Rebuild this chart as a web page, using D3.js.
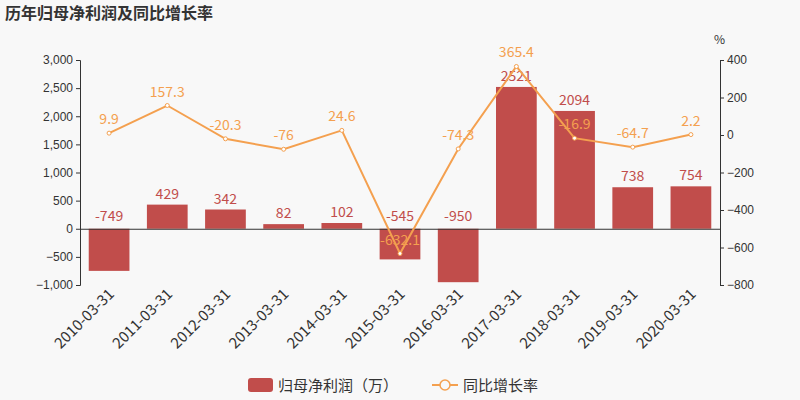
<!DOCTYPE html>
<html><head><meta charset="utf-8">
<script src="https://cdn.jsdelivr.net/npm/d3@7"></script>
<style>body{margin:0;background:#f8f8f8;font-family:"Noto Sans CJK SC","Noto Sans",sans-serif}</style>
</head><body><svg id="c" width="800" height="400"></svg>
<script>
const dates = ["2010-03-31","2011-03-31","2012-03-31","2013-03-31","2014-03-31","2015-03-31","2016-03-31","2017-03-31","2018-03-31","2019-03-31","2020-03-31"];
const profit = [-749, 429, 342, 82, 102, -545, -950, 2521, 2094, 738, 754];
const growth = [9.9, 157.3, -20.3, -76, 24.6, -632.1, -74.3, 365.4, -16.9, -64.7, 2.2];
const leftTicks = [-1000, -500, 0, 500, 1000, 1500, 2000, 2500, 3000];
const rightTicks = [-800, -600, -400, -200, 0, 200, 400];

const svg = d3.select("#c");
svg.append("rect").attr("width", 800).attr("height", 400).attr("fill", "#f8f8f8");
const plotL = 80, plotR = 720, plotT = 60, plotB = 285;
const barColor = "#c14d4b", lineColor = "#f4a04f";

const x = d3.scaleBand().domain(dates).range([plotL, plotR]).paddingInner(0.3).paddingOuter(0.15);
const yL = d3.scaleLinear().domain([-1000, 3000]).range([plotB, plotT]);
const yR = d3.scaleLinear().domain([-800, 400]).range([plotB, plotT]);

svg.append("text").attr("x", 5).attr("y", 19).text("历年归母净利润及同比增长率")
  .attr("font-size", 16).attr("font-weight", "bold").attr("fill", "#333");
svg.append("text").attr("x", 714).attr("y", 44).text("%").attr("font-size", 12).attr("fill", "#333");

const axL = svg.append("g").attr("transform", `translate(${plotL},0)`)
  .call(d3.axisLeft(yL).tickValues(leftTicks).tickFormat(d3.format(",")).tickSize(4));
const axR = svg.append("g").attr("transform", `translate(${plotR},0)`)
  .call(d3.axisRight(yR).tickValues(rightTicks).tickSize(4));
[axL, axR].forEach(a => {
  a.selectAll("path,line").attr("stroke", "#333");
  a.selectAll("text").attr("font-size", 12).attr("fill", "#333");
});

svg.append("g").selectAll("rect").data(profit).enter().append("rect")
  .attr("x", (d, i) => x(dates[i])).attr("width", x.bandwidth())
  .attr("y", d => yL(Math.max(0, d))).attr("height", d => Math.abs(yL(d) - yL(0)))
  .attr("fill", barColor);

const ax = svg.append("g").attr("transform", `translate(0,${yL(0)})`)
  .call(d3.axisBottom(x).tickSize(0).tickFormat(""));
ax.select("path").attr("stroke", "#333");
svg.append("g").selectAll("text").data(dates).enter().append("text")
  .attr("transform", d => `translate(${x(d) + x.bandwidth() / 2 + 6},${plotB + 10}) rotate(-45)`)
  .attr("text-anchor", "end").attr("font-size", 15).attr("fill", "#333").text(d => d);

svg.append("g").selectAll("text").data(profit).enter().append("text")
  .attr("x", (d, i) => x(dates[i]) + x.bandwidth() / 2)
  .attr("y", d => d >= 0 ? yL(d) - 6 : yL(0) - 8)
  .attr("text-anchor", "middle").attr("font-size", 14).attr("fill", barColor).text(d => d);

const cx = (d, i) => x(dates[i]) + x.bandwidth() / 2;
svg.append("path").datum(growth)
  .attr("d", d3.line().x(cx).y(d => yR(d)))
  .attr("fill", "none").attr("stroke", lineColor).attr("stroke-width", 2);
svg.append("g").selectAll("circle").data(growth).enter().append("circle")
  .attr("cx", cx).attr("cy", d => yR(d)).attr("r", 2)
  .attr("fill", "#fff").attr("stroke", lineColor);
svg.append("g").selectAll("text").data(growth).enter().append("text")
  .attr("x", cx).attr("y", d => yR(d) - 9)
  .attr("text-anchor", "middle").attr("font-size", 14).attr("fill", lineColor).text(d => d);

const lg = svg.append("g");
lg.append("rect").attr("x", 248).attr("y", 378).attr("width", 25).attr("height", 14).attr("rx", 3).attr("fill", barColor);
lg.append("text").attr("x", 278).attr("y", 391).text("归母净利润（万）").attr("font-size", 15).attr("fill", "#333");
lg.append("line").attr("x1", 432).attr("x2", 458).attr("y1", 385).attr("y2", 385).attr("stroke", lineColor).attr("stroke-width", 2);
lg.append("circle").attr("cx", 445).attr("cy", 385).attr("r", 5).attr("fill", "#f8f8f8").attr("stroke", lineColor).attr("stroke-width", 1.5);
lg.append("text").attr("x", 463).attr("y", 391).text("同比增长率").attr("font-size", 15).attr("fill", "#333");
</script></body></html>
